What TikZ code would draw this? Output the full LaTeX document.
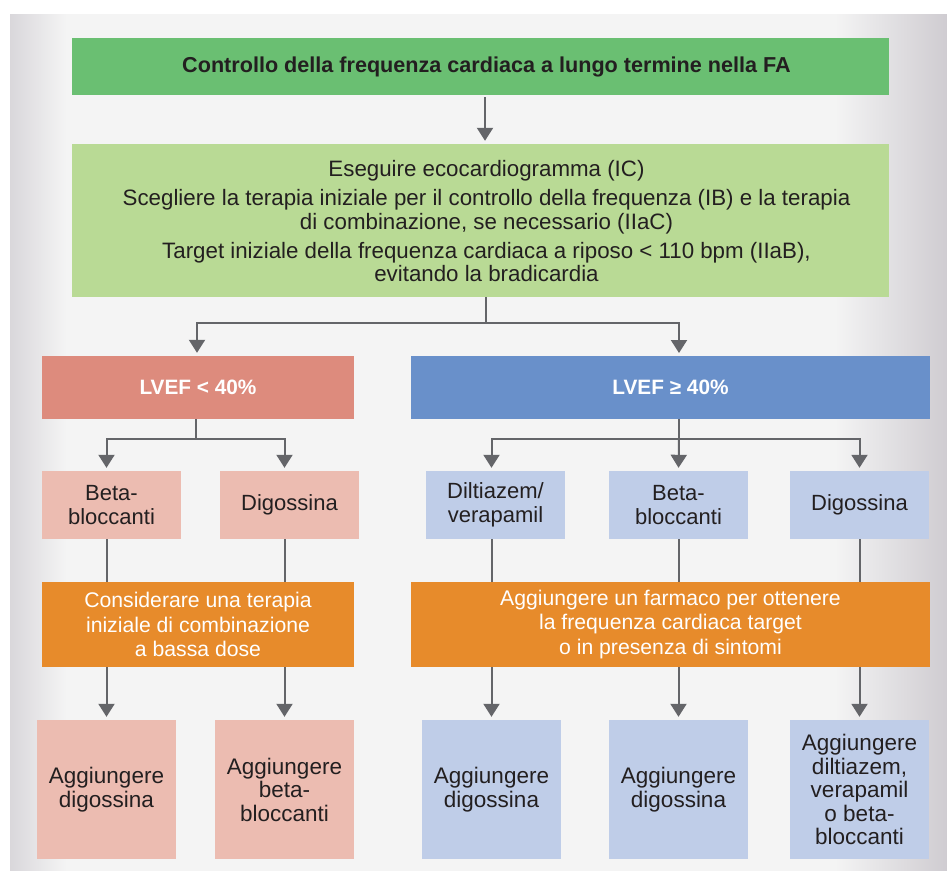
\documentclass[tikz,border=0pt]{standalone}
\usepackage{fontspec}
\setmainfont{Liberation Sans}
\usetikzlibrary{arrows.meta}
\definecolor{greenD}{HTML}{6ABF72}
\definecolor{greenL}{HTML}{B9DA95}
\definecolor{redD}{HTML}{DD8B7D}
\definecolor{redL}{HTML}{ECBCB1}
\definecolor{blueD}{HTML}{6990CA}
\definecolor{blueL}{HTML}{BFCDE8}
\definecolor{orangeD}{HTML}{E78B2B}
\definecolor{lineg}{HTML}{646569}
\definecolor{txt}{HTML}{231F20}
\definecolor{panelL}{HTML}{D9D7DB}
\definecolor{panelM}{HTML}{F4F4F4}
\definecolor{panelR}{HTML}{CFCCD1}
\pgfdeclarehorizontalshading{panelshade}{100bp}{color(0bp)=(panelL); color(25bp)=(panelL); color(28bp)=(panelM); color(69bp)=(panelM); color(75bp)=(panelR); color(100bp)=(panelR)}
\begin{document}
\begin{tikzpicture}[x=1pt,y=-1pt,
  box/.style={rectangle, inner sep=0pt, align=center, text=txt},
  titlebox/.style={box, fill=greenD, minimum width=817pt, minimum height=57pt},
  titletext/.style={box, font=\bfseries\fontsize{21.6}{24}\selectfont},
  infobox/.style={box, fill=greenL, minimum width=817pt, minimum height=153pt},
  infotext/.style={box, font=\fontsize{22.3}{23.5}\selectfont},
  lvefred/.style={box, fill=redD, text=white, minimum width=312pt, minimum height=63pt, font=\bfseries\fontsize{20.8}{24}\selectfont},
  lvefblue/.style={box, fill=blueD, text=white, minimum width=519pt, minimum height=63pt, font=\bfseries\fontsize{20.8}{24}\selectfont},
  drugbox/.style={box, minimum width=139pt, minimum height=68pt, font=\fontsize{22}{24}\selectfont},
  orangebox/.style={box, fill=orangeD, text=white, minimum height=85pt, font=\fontsize{21.2}{24.5}\selectfont},
  addbox/.style={box, minimum width=139pt, minimum height=139pt, font=\fontsize{22.5}{23.5}\selectfont},
  conn/.style={draw=lineg, line width=2pt},
  connarrow/.style={conn, -{Triangle[width=16pt,length=13pt]}, shorten >=3pt}
]
\useasboundingbox (0,0) rectangle (947,870);
\fill[white] (0,0) rectangle (947,870);
\shade[shading=panelshade] (10,14) rectangle (947,870);

% nodes
\node[titlebox] (title) at (480.5,66.5) {};
\node[titletext] (titlelabel) at ([xshift=6pt]title.center) {Controllo della frequenza cardiaca a lungo termine nella FA};
\node[infobox] (info) at (480.5,220.5) {};
\node[infotext] (infolabel) at ([xshift=6pt,yshift=-1pt]info.center) {Eseguire ecocardiogramma (IC)\\[5.5pt]
Scegliere la terapia iniziale per il controllo della frequenza (IB) e la terapia\\
di combinazione, se necessario (IIaC)\\[5.5pt]
Target iniziale della frequenza cardiaca a riposo < 110 bpm (IIaB),\\
evitando la bradicardia};
\node[lvefred] (red) at (198,387.5) {LVEF < 40\%};
\node[lvefblue] (blue) at (670.5,387.5) {LVEF ≥ 40\%};

\node[drugbox, fill=redL] (r1) at (111.5,505) {Beta-\\bloccanti};
\node[drugbox, fill=redL] (r2) at (289.5,505) {Digossina};
\node[drugbox, fill=blueL] (b1) at (495.5,505) {Diltiazem/\\verapamil};
\node[drugbox, fill=blueL] (b2) at (678.5,505) {Beta-\\bloccanti};
\node[drugbox, fill=blueL] (b3) at (859.5,505) {Digossina};

\node[addbox, fill=redL] (d1) at (106.5,789.5) {Aggiungere\\digossina};
\node[addbox, fill=redL] (d2) at (284.5,789.5) {Aggiungere\\beta-\\bloccanti};
\node[addbox, fill=blueL] (d3) at (491.5,789.5) {Aggiungere\\digossina};
\node[addbox, fill=blueL] (d4) at (678.5,789.5) {Aggiungere\\digossina};
\node[addbox, fill=blueL] (d5) at (859.5,789.5) {Aggiungere\\diltiazem,\\verapamil\\o beta-\\bloccanti};

% connectors
\draw[connarrow, shorten <=2pt] (title.south -| 485,0) -- (info.north -| 485,0);

\coordinate (j0) at (486,323);
\coordinate (bluein) at (679,356);
\draw[conn] (info.south -| j0) -- (j0);
\draw[connarrow] (j0) -| (red.north -| 197,0);
\draw[connarrow] (j0) -| (bluein);

\coordinate (j1) at (196,439);
\draw[conn] (red.south -| j1) -- (j1);
\draw[connarrow] (j1) -| (d1.north |- r1.north);
\draw[connarrow] (j1) -| (d2.north |- r2.north);

\coordinate (j2) at (679,439);
\draw[conn] (blue.south -| j2) -- (j2);
\draw[connarrow] (j2) -| (d3.north |- b1.north);
\draw[connarrow] (j2) -- (d4.north |- b2.north);
\draw[connarrow] (j2) -| (d5.north |- b3.north);

\draw[connarrow] (d1.north |- r1.south) -- (d1.north);
\draw[connarrow] (d2.north |- r2.south) -- (d2.north);
\draw[connarrow] (d3.north |- b1.south) -- (d3.north);
\draw[connarrow] (d4.north |- b2.south) -- (d4.north);
\draw[connarrow] (d5.north |- b3.south) -- (d5.north);

% orange boxes on top of the lines
\node[orangebox, minimum width=312pt] (o1) at (198,624.5) {Considerare una terapia\\iniziale di combinazione\\a bassa dose};
\node[orangebox, minimum width=519pt] (o2) at (670.5,624.5) {Aggiungere un farmaco per ottenere\\la frequenza cardiaca target\\o in presenza di sintomi};
\end{tikzpicture}
\end{document}
